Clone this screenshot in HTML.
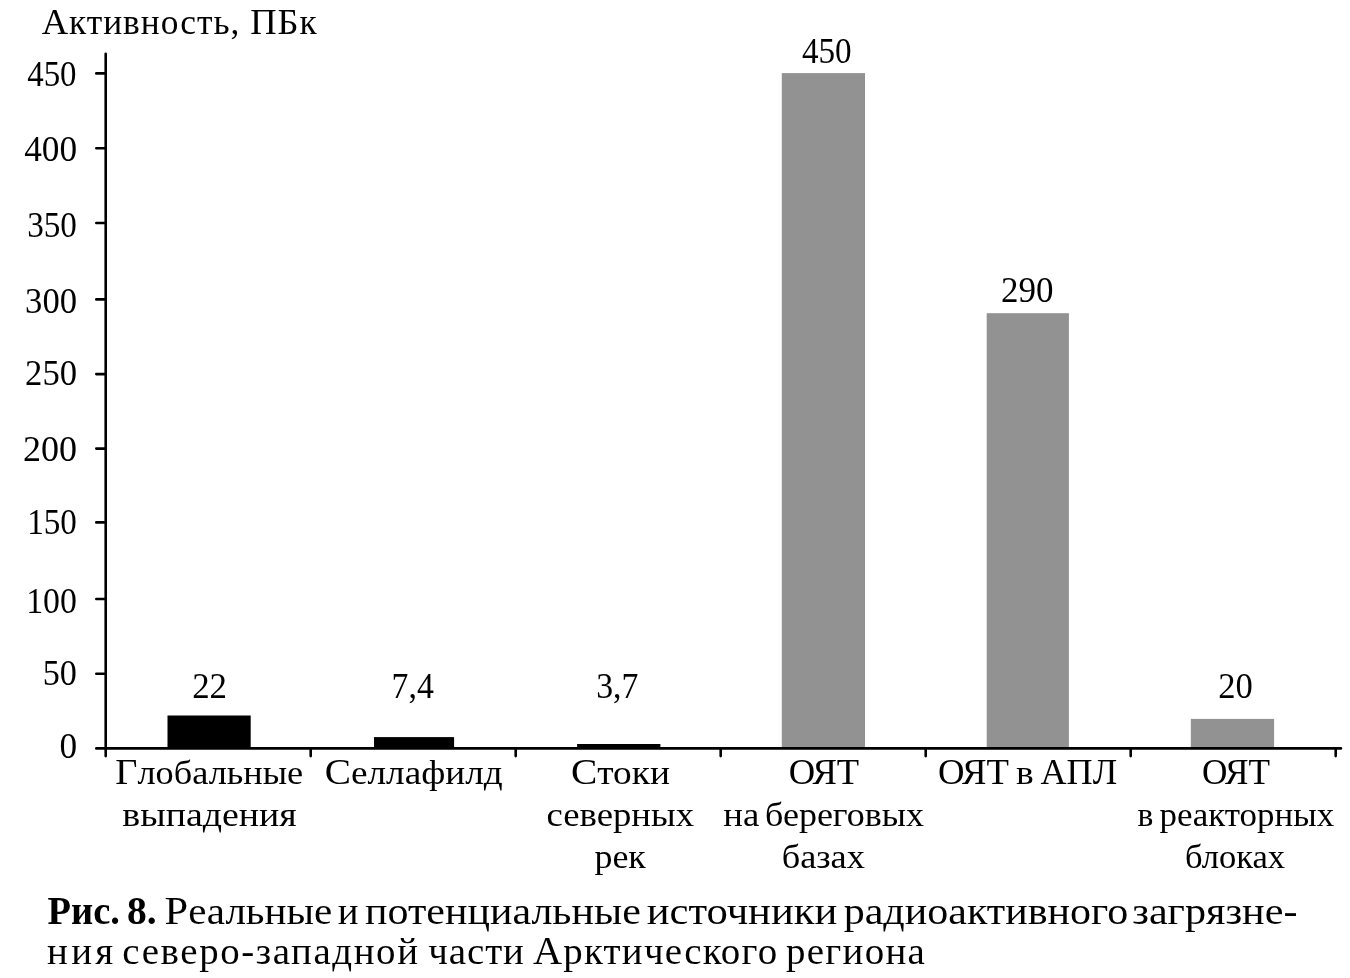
<!DOCTYPE html>
<html><head><meta charset="utf-8"><style>
html,body{margin:0;padding:0;background:#fff;width:1350px;height:978px;overflow:hidden}
svg{display:block;will-change:transform}
text{font-family:"Liberation Serif",serif;fill:#000}
</style></head><body>
<svg width="1350" height="978" viewBox="0 0 1350 978">
<rect x="167.5" y="715.5" width="83.2" height="32.9" fill="#000"/>
<rect x="374" y="737.1" width="80.1" height="11.3" fill="#000"/>
<rect x="577.1" y="744" width="83.3" height="4.4" fill="#000"/>
<rect x="781.8" y="73.1" width="83.2" height="675.3" fill="#929292"/>
<rect x="986.7" y="313.2" width="82.2" height="435.2" fill="#929292"/>
<rect x="1190.8" y="718.9" width="83.3" height="29.5" fill="#929292"/>
<path d="M105.7 53.8V756.1M96.3 748.4H1341" stroke="#000" stroke-width="2.6" fill="none" stroke-linecap="round"/>
<path d="M96.3 673.7H105.7M96.3 599.0H105.7M96.3 522.4H105.7M96.3 448.6H105.7M96.3 374.1H105.7M96.3 299.4H105.7M96.3 222.95H105.7M96.3 148.3H105.7M96.3 73.4H105.7M310.7 748.4V756.1M515.7 748.4V756.1M720.7 748.4V756.1M925.7 748.4V756.1M1130.7 748.4V756.1M1335.7 748.4V756.1" stroke="#000" stroke-width="2.6" fill="none" stroke-linecap="round"/>
<text transform="translate(27.19 85.6) scale(0.9135 1)" font-size="36">450</text>
<text transform="translate(24.15 160.9) scale(0.9788 1)" font-size="36">400</text>
<text transform="translate(27.16 236.7) scale(0.9216 1)" font-size="36">350</text>
<text transform="translate(25.1 312.7) scale(0.9608 1)" font-size="36">300</text>
<text transform="translate(25.1 384.7) scale(0.9608 1)" font-size="36">250</text>
<text transform="translate(23.03 460.7)" font-size="36">200</text>
<text transform="translate(27.23 533.8) scale(0.9203 1)" font-size="36">150</text>
<text transform="translate(26.16 612.7) scale(0.9405 1)" font-size="36">100</text>
<text transform="translate(42.8 684.7) scale(0.949 1)" font-size="36">50</text>
<text transform="translate(59.4 757.7) scale(0.9783 1)" font-size="36">0</text>
<text transform="translate(192.19 697.7) scale(0.968 1)" font-size="36">22</text>
<text transform="translate(391.61 697.7) scale(0.9381 1)" font-size="36">7,4</text>
<text transform="translate(596.14 697.7) scale(0.9378 1)" font-size="36">3,7</text>
<text transform="translate(801.89 62.8) scale(0.9212 1)" font-size="36">450</text>
<text transform="translate(1001.08 302) scale(0.9706 1)" font-size="36">290</text>
<text transform="translate(1218.3 697.6) scale(0.9606 1)" font-size="36">20</text>
<text transform="translate(115.35 783.8) scale(1.0492 1)" font-size="34.6"><tspan font-size="36.5">Г</tspan>лобальные</text>
<text transform="translate(122.37 825.8) scale(1.0937 1)" font-size="34.6">выпадения</text>
<text transform="translate(324.81 783.9) scale(1.0761 1)" font-size="34.6"><tspan font-size="36.5">С</tspan>еллафилд</text>
<text transform="translate(570.9 783.7) scale(1.0809 1)" font-size="34.6"><tspan font-size="36.5">С</tspan>токи</text>
<text transform="translate(546.59 825.7) scale(1.0609 1)" font-size="34.6">северных</text>
<text transform="translate(594.41 867.7) scale(1.0388 1)" font-size="34.6">рек</text>
<text transform="translate(788.63 784) scale(1.0015 1)" font-size="34.6"><tspan font-size="36.5">ОЯТ</tspan></text>
<text transform="translate(723.29 825.9) scale(1.0622 1)" font-size="34.6">на</text>
<text transform="translate(765.07 825.9) scale(1.0407 1)" font-size="34.6">береговых</text>
<text transform="translate(781.65 867.5) scale(1.05 1)" font-size="34.6">базах</text>
<text transform="translate(938.12 783.8) scale(1.0059 1)" font-size="34.6"><tspan font-size="36.5">ОЯТ</tspan></text>
<text transform="translate(1016.08 783.8) scale(1.0814 1)" font-size="34.6">в</text>
<text transform="translate(1040.57 783.8) scale(0.9882 1)" font-size="34.6"><tspan font-size="36.5">АПЛ</tspan></text>
<text transform="translate(1202.09 784) scale(0.9647 1)" font-size="34.6"><tspan font-size="36.5">ОЯТ</tspan></text>
<text transform="translate(1137.45 825.9) scale(0.9698 1)" font-size="34.6">в</text>
<text transform="translate(1159.43 825.9) scale(1.0093 1)" font-size="34.6">реакторных</text>
<text transform="translate(1185.04 867.5) scale(0.998 1)" font-size="34.6">блоках</text>
<text transform="translate(41.67 34.1)" font-size="35.4" letter-spacing="0.979"><tspan font-size="36.5">А</tspan>ктивность, <tspan font-size="36.5">ПБ</tspan>к</text>
<text transform="translate(47.47 923.8) scale(0.9516 1)" font-size="40.5" font-weight="bold">Рис.</text>
<text transform="translate(127.0 923.8) scale(0.9768 1)" font-size="40.5" font-weight="bold">8.</text>
<text transform="translate(164.55 923.8) scale(1.0538 1)" font-size="38.9"><tspan font-size="40.3">Р</tspan>еальные</text>
<text transform="translate(337.83 923.8) scale(0.9983 1)" font-size="38.9">и</text>
<text transform="translate(365.08 923.8) scale(1.0796 1)" font-size="38.9">потенциальные</text>
<text transform="translate(646.67 923.8) scale(1.0961 1)" font-size="38.9">источники</text>
<text transform="translate(843.68 923.8) scale(1.0812 1)" font-size="38.9">радиоактивного</text>
<text transform="translate(1132.22 923.8) scale(1.0847 1)" font-size="38.9">загрязне-</text>
<text transform="translate(47.03 964.4)" font-size="38.9" letter-spacing="3.283">ния</text>
<text transform="translate(122.37 964.4)" font-size="38.9" letter-spacing="1.593">северо-западной</text>
<text transform="translate(428.23 964.4)" font-size="38.9" letter-spacing="0.942">части</text>
<text transform="translate(532.97 964.4)" font-size="38.9" letter-spacing="1.239"><tspan font-size="40.3">А</tspan>рктического</text>
<text transform="translate(786.03 964.4)" font-size="38.9" letter-spacing="1.289">региона</text>
</svg></body></html>
